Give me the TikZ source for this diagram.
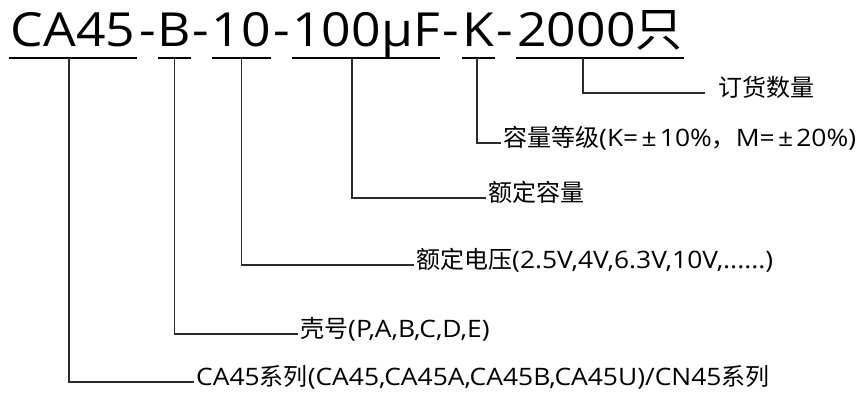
\documentclass[tikz,border=0pt]{standalone}
\usepackage{fontspec}
\setmainfont[FakeStretch=1.1]{Open Sans}
\newfontfamily\cjk{Noto Sans CJK SC}
\usepackage{tikz}
\usetikzlibrary{positioning, calc}
\definecolor{leadgray}{HTML}{2B2B2B}
\newcommand\widepm{\makebox[0.9em]{±}}

\begin{document}
\begin{tikzpicture}[x=1pt, y=-1pt,
    seg/.style={anchor=base, inner sep=0pt, font=\fontsize{47}{47}\selectfont,
      text height=36pt, text depth=11pt, align=center},
    lbl/.style={anchor=west, inner xsep=2pt, inner ysep=0pt, font=\fontsize{24}{24}\selectfont,
      text height=0.88em, text depth=0.12em},
    uline/.style={draw=black, line width=2pt},
    lead/.style={draw=leadgray, line width=1.2pt}]
\useasboundingbox (0,0) rectangle (862,396);

% part number
\node[seg, minimum width=128pt] (pSeries) at (73,47) {CA45};
\node[seg] (h1) at (148,47) {-};
\node[seg, minimum width=31pt] (pCase) at (174.5,47) {B};
\node[seg] (h2) at (201,47) {-};
\node[seg, minimum width=59pt] (pVolt) at (241.5,47) {10};
\node[seg] (h3) at (282,47) {-};
\node[seg, minimum width=146pt] (pCap) at (366,47) {100μF};
\node[seg] (h4) at (451,47) {-};
\node[seg, minimum width=31pt] (pTol) at (478.5,47) {K};
\node[seg] (h5) at (505,47) {-};
\node[seg, minimum width=168pt] (pQty) at (600,47) {2000{\cjk 只}};

\foreach \p in {pSeries,pCase,pVolt,pCap,pTol,pQty}
  \draw[uline] (\p.south west) -- (\p.south east);

% labels
\node[lbl] (lQty) at (716,93) {\cjk 订货数量};
\node[lbl] (lTol) at (501,143) {{\cjk 容量等级}(K=\widepm10\%{\cjk ，}M=\widepm20\%)};
\node[lbl] (lCap) at (486,198) {\cjk 额定容量};
\node[lbl] (lVolt) at (414,265) {{\cjk 额定电压}(2.5V,4V,6.3V,10V,......)};
\node[lbl] (lCase) at (298,334) {{\cjk 壳号}(P,A,B,C,D,E)};
\node[lbl] (lSeries) at (194,382) {CA45{\cjk 系列}(CA45,CA45A,CA45B,CA45U)/CN45{\cjk 系列}};

% leaders
\draw[lead] ([xshift=-17pt]pQty.south) |- ([xshift=-11pt]lQty.west);
\draw[lead] ([xshift=-1.5pt]pTol.south) |- (lTol.west);
\draw[lead] ([xshift=-14pt]pCap.south) |- (lCap.west);
\draw[lead] (pVolt.south) |- (lVolt.west);
\draw[lead] (pCase.south) |- (lCase.west);
\draw[lead] ([xshift=-4pt]pSeries.south) |- (lSeries.west);
\end{tikzpicture}
\end{document}
